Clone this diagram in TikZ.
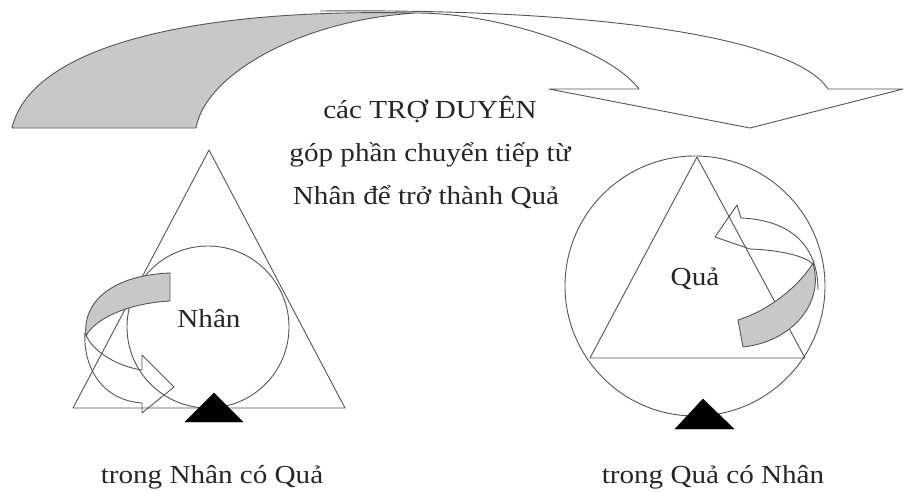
\documentclass[tikz,border=0pt]{standalone}
\usepackage{fontspec}
\setmainfont{Liberation Serif}[FakeStretch=1.12]
\definecolor{edge}{RGB}{85,85,85}
\definecolor{shade}{RGB}{200,200,200}
\tikzset{
  outline/.style={draw=edge, line width=0.9pt, line join=round},
  back/.style={outline, fill=shade},
  solid tri/.style={fill=black, draw=black},
  lbl/.style={inner sep=0pt, anchor=base, font=\fontsize{26}{30}\selectfont, text=black!85}
}
\begin{document}
\begin{tikzpicture}[x=1pt, y=-1pt]
\useasboundingbox (0,0) rectangle (906,491);
% ---------- top curved arrow ----------
\draw[outline] (320,11) .. controls (640,8) and (800,45) .. (828,89)
  -- (903,89) -- (750,128) -- (549,89) -- (639,89)
  .. controls (610,50) and (500,13) .. (416,13);
\draw[back] (12,128) -- (196,128) .. controls (205,75) and (300,20) .. (416,13)
  .. controls (180,8) and (30,50) .. (12,128) -- cycle;
% ---------- left figure ----------
\coordinate (LA) at (209,150);
\coordinate (LB) at (73,408);
\coordinate (LC) at (345,408);
\draw[outline] (LA) -- (LB) -- (LC) -- cycle;
\draw[outline] (208,327) circle[radius=81];
\draw[outline] (85,332) .. controls (83,365) and (100,400) .. (142,403)
  -- (142,413) -- (174,387) -- (142,355) -- (142,370)
  .. controls (115,366) and (92,350) .. (86,335);
\draw[back] (170,273) -- (170,301) .. controls (130,303) and (95,318) .. (86,336)
  .. controls (82,300) and (115,275) .. (170,273) -- cycle;
\fill[solid tri] (185,422) -- (214,393) -- (243,422) -- cycle;
\node[lbl] (nhan) at (209,327) {Nhân};
\node[lbl] (lcap) at (212,483) {trong Nhân có Quả};
% ---------- right figure ----------
\draw[outline] (695,286) circle[radius=130];
\coordinate (RA) at (697,157);
\coordinate (RB) at (590,358);
\coordinate (RC) at (805,358);
\draw[outline] (RA) -- (RB) -- (RC) -- cycle;
\draw[outline] (818,290) .. controls (818,245) and (790,220) .. (741,218)
  -- (737,205) -- (715,237) -- (750,249)
  .. controls (780,250) and (805,256) .. (813,264);
\draw[back] (738,320) -- (743,347) .. controls (790,342) and (825,305) .. (813,263)
  .. controls (800,285) and (770,310) .. (738,320) -- cycle;
\fill[solid tri] (675,429) -- (703,399) -- (734,429) -- cycle;
\node[lbl] (qua) at (695,285) {Quả};
\node[lbl] (rcap) at (713,483) {trong Quả có Nhân};
% ---------- centre text ----------
\node[lbl] (t1) at (430,118) {các TRỢ DUYÊN};
\node[lbl] (t2) at (430,161) {góp phần chuyển tiếp từ};
\node[lbl] (t3) at (426,204) {Nhân để trở thành Quả};
\end{tikzpicture}
\end{document}
